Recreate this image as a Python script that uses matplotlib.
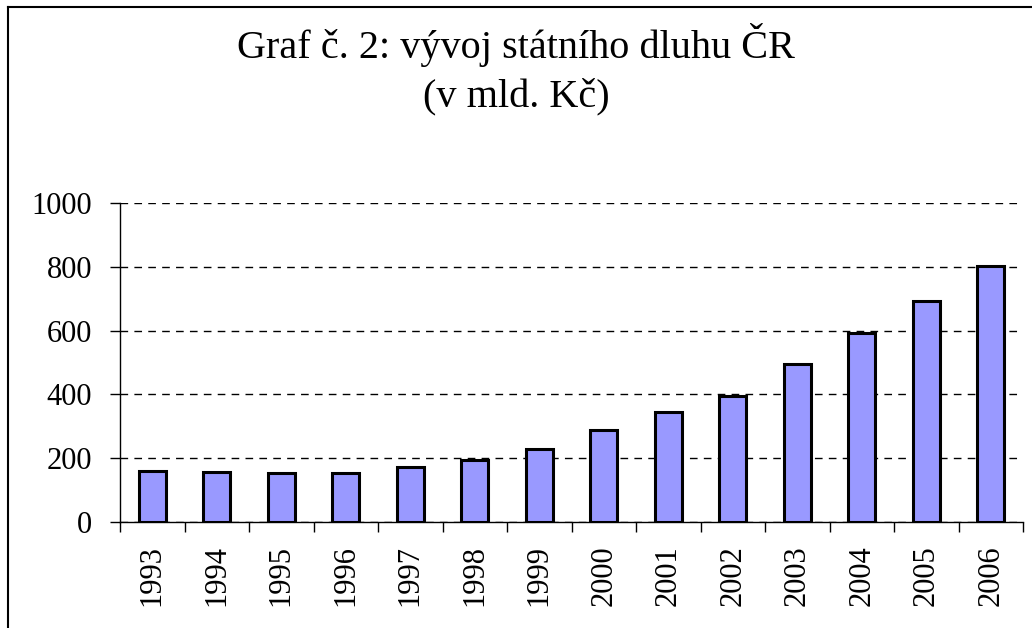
import matplotlib.pyplot as plt
from matplotlib.lines import Line2D
import numpy as np

years = ['1993', '1994', '1995', '1996', '1997', '1998', '1999',
         '2000', '2001', '2002', '2003', '2004', '2005', '2006']
debt = [160, 157, 154, 155, 173, 194, 229, 289, 346, 396, 494, 592, 692, 802]

plt.rcParams['font.family'] = ['Liberation Serif', 'DejaVu Serif']

fig = plt.figure(figsize=(10.32, 6.28), dpi=100)
ax = fig.add_axes([120 / 1032, 106 / 628, 903 / 1032, 319 / 628])

x = np.arange(len(years))
ax.bar(x, debt, width=0.42, color='#9999ff', edgecolor='black', linewidth=2.2, zorder=3)

ax.set_xlim(-0.5, len(years) - 0.5)
ax.set_ylim(0, 1000)
ax.set_yticks(np.arange(0, 1001, 200))
ax.tick_params(axis='y', labelsize=22, length=7.2, width=1, direction='out', pad=13)
ax.set_xticks(x)
ax.set_xticklabels(years, rotation=90, fontsize=22)
ax.set_xticks(np.arange(-0.5, len(years), 1), minor=True)
ax.tick_params(axis='x', which='major', length=0, pad=16.5)
ax.tick_params(axis='x', which='minor', length=7.2, width=1, direction='out')

ax.yaxis.grid(True, color='black', linestyle=(0, (5.5, 4.5)), linewidth=1, zorder=0)
for s in ['top', 'right']:
    ax.spines[s].set_visible(False)
for s in ['left', 'bottom']:
    ax.spines[s].set_linewidth(1)

fig.text(0.5, 1 - 45 / 628, 'Graf č. 2: vývoj státního dluhu ČR', ha='center', va='center', fontsize=29)
fig.text(0.5, 1 - 97 / 628, '(v mld. Kč)', ha='center', va='center', fontsize=29)

# chart frame: only the top and left edges are inside the picture
fx, fy = 8 / 1032, 1 - 7 / 628
fig.add_artist(Line2D([fx, 1], [fy, fy], transform=fig.transFigure, color='black', linewidth=1.5))
fig.add_artist(Line2D([fx, fx], [0, fy], transform=fig.transFigure, color='black', linewidth=1.5))

fig.savefig('out.png', dpi=100)
